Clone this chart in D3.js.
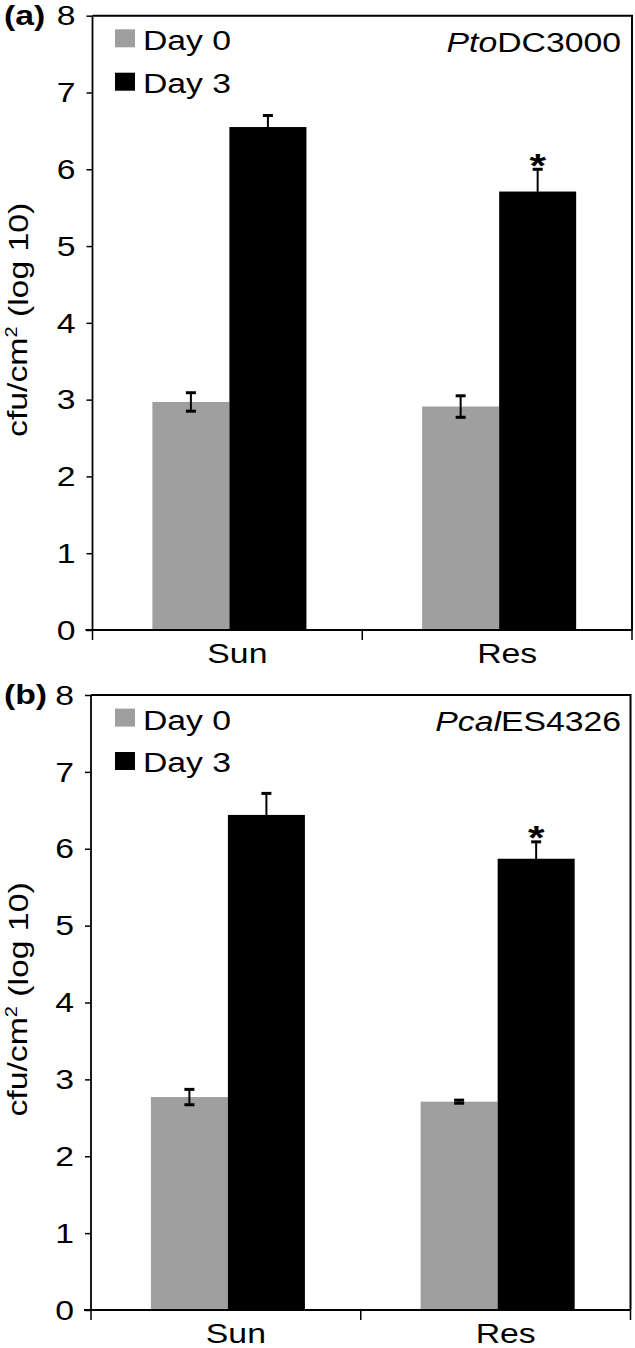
<!DOCTYPE html>
<html>
<head>
<meta charset="utf-8">
<script src="https://cdn.jsdelivr.net/npm/d3@7"></script>
<style>
  html, body { margin: 0; padding: 0; background: #fff; }
  svg { display: block; }
  text { font-family: "Liberation Sans", Arial, sans-serif; fill: #000; }
</style>
</head>
<body>
<svg id="chart" width="635" height="1348"></svg>
<script>
// ---------- data ----------
const categories = ["Sun", "Res"];
const seriesNames = ["Day 0", "Day 3"];
const yTickValues = [0, 1, 2, 3, 4, 5, 6, 7, 8];

const panelLabels = ["(a)", "(b)"];
const strainPrefix = ["Pto", "Pcal"];
const strainSuffix = ["DC3000", "ES4326"];

// panel (a)
const aDay0 = [2.97, 2.91];
const aDay0Err = [0.12, 0.14];
const aDay3 = [6.55, 5.71];
const aDay3Err = [0.15, 0.29];
const aSignif = [false, true];

// panel (b)
const bDay0 = [2.77, 2.71];
const bDay0Err = [0.10, 0.02];
const bDay3 = [6.44, 5.87];
const bDay3Err = [0.28, 0.22];
const bSignif = [false, true];

const seriesColors = ["#9f9f9f", "#000000"];

// ---------- layout ----------
const panels = [
  { left: 92.5, right: 632, top: 15.7, bottom: 630,
    day0: aDay0, day0Err: aDay0Err, day3: aDay3, day3Err: aDay3Err, signif: aSignif },
  { left: 91, right: 630.5, top: 695, bottom: 1310,
    day0: bDay0, day0Err: bDay0Err, day3: bDay3, day3Err: bDay3Err, signif: bSignif }
];
const FS = 27;       // font size
const SX = 1.25;     // horizontal stretch of glyphs seen in the reference

const svg = d3.select("#chart");

function stretchedText(parent, x, y, str, opts = {}) {
  const g = parent.append("g")
    .attr("transform", `translate(${x},${y})${opts.rotate ? ` rotate(${opts.rotate})` : ""} scale(${SX},1)`);
  const t = g.append("text")
    .attr("x", 0).attr("y", 0)
    .attr("text-anchor", opts.anchor || "start")
    .attr("font-size", opts.size || FS)
    .attr("font-weight", opts.weight || "normal");
  if (opts.dy) t.attr("dy", opts.dy);
  return t;
}

panels.forEach((p, pi) => {
  const g = svg.append("g");
  const y = d3.scaleLinear().domain([0, 8]).range([p.bottom, p.top]);
  const x0 = d3.scaleBand().domain(categories).range([p.left, p.right]);
  const bw = x0.bandwidth();
  const x1 = d3.scaleBand().domain(seriesNames).range([bw * 0.222, bw * 0.793]);

  const rows = categories.map((c, i) => ({
    cat: c,
    vals: [
      { s: seriesNames[0], v: p.day0[i], e: p.day0Err[i] },
      { s: seriesNames[1], v: p.day3[i], e: p.day3Err[i] }
    ],
    signif: p.signif[i]
  }));

  // bars
  const grp = g.selectAll(".grp").data(rows).enter().append("g")
    .attr("transform", d => `translate(${x0(d.cat)},0)`);
  grp.selectAll("rect").data(d => d.vals).enter().append("rect")
    .attr("x", d => x1(d.s))
    .attr("width", x1.bandwidth())
    .attr("y", d => y(d.v))
    .attr("height", d => y(0) - y(d.v))
    .attr("fill", (d, i) => seriesColors[i]);

  // error bars
  const capW = 10;
  grp.selectAll(".err").data(d => d.vals).enter().append("g").each(function(d) {
    const cx = x1(d.s) + x1.bandwidth() / 2;
    const e = d3.select(this);
    e.append("line").attr("x1", cx).attr("x2", cx)
      .attr("y1", y(d.v + d.e)).attr("y2", y(d.v - d.e))
      .attr("stroke", "#000").attr("stroke-width", 2);
    [d.v + d.e, d.v - d.e].forEach(val => {
      e.append("line").attr("x1", cx - capW / 2).attr("x2", cx + capW / 2)
        .attr("y1", y(val)).attr("y2", y(val))
        .attr("stroke", "#000").attr("stroke-width", 3);
    });
  });

  // significance asterisks
  rows.forEach(r => {
    if (!r.signif) return;
    const v = r.vals[1];
    const cx = x0(r.cat) + x1(v.s) + x1.bandwidth() / 2;
    stretchedText(g, cx, y(v.v + v.e) + 7.5, "*", { anchor: "middle", size: 34, weight: "bold" })
      .text("*");
  });

  // frame (top & right)
  g.append("path")
    .attr("d", `M${p.left},${p.top}H${p.right}V${p.bottom}`)
    .attr("fill", "none").attr("stroke", "#000").attr("stroke-width", 2);

  // y axis
  const yAxis = d3.axisLeft(y).tickValues(yTickValues).tickSize(6).tickFormat("");
  const ya = g.append("g").attr("transform", `translate(${p.left},0)`).call(yAxis);
  ya.select(".domain").attr("stroke-width", 1.8).attr("d", `M0,${p.top}V${p.bottom}`);
  ya.selectAll(".tick line").attr("stroke-width", 1.5);
  yTickValues.forEach(t => {
    stretchedText(g, p.left - 17, y(t), String(t), { anchor: "end", dy: "0.36em" }).text(t);
  });

  // x axis
  const xa = g.append("g").attr("transform", `translate(0,${p.bottom})`);
  xa.append("line").attr("x1", p.left - 7).attr("x2", p.right)
    .attr("y1", 0).attr("y2", 0).attr("stroke", "#000").attr("stroke-width", 2);
  const bounds = [p.left, ...categories.map(c => x0(c) + bw)];
  xa.selectAll(".xt").data(bounds).enter().append("line")
    .attr("x1", d => d).attr("x2", d => d).attr("y1", 0).attr("y2", 10)
    .attr("stroke", "#000").attr("stroke-width", 1.5);
  categories.forEach(c => {
    stretchedText(g, x0(c) + bw / 2 + 10, p.bottom + 33, c, { anchor: "middle" }).text(c);
  });

  // y label
  const yl = stretchedText(g, 27, (p.top + p.bottom) / 2 - 3, "", { anchor: "middle", rotate: -90 });
  yl.append("tspan").text("cfu/cm");
  yl.append("tspan").attr("font-size", 16).attr("dy", "-0.6em").text("2");
  yl.append("tspan").attr("dy", "0.38em").text(" (log 10)");

  // panel label
  stretchedText(g, 4, p.top + 9, "", { weight: "bold" }).text(panelLabels[pi]);

  // legend
  seriesNames.forEach((s, i) => {
    g.append("rect").attr("x", 115).attr("y", p.top + 13.6 + i * 43.4)
      .attr("width", 20).attr("height", 18).attr("fill", seriesColors[i]);
    stretchedText(g, 143, p.top + 34.5 + i * 42.5, s).text(s);
  });

  // strain title
  const st = stretchedText(g, 621, p.top + 36, "", { anchor: "end" });
  st.append("tspan").attr("font-style", "italic").text(strainPrefix[pi]);
  st.append("tspan").text(strainSuffix[pi]);
});
</script>
</body>
</html>
